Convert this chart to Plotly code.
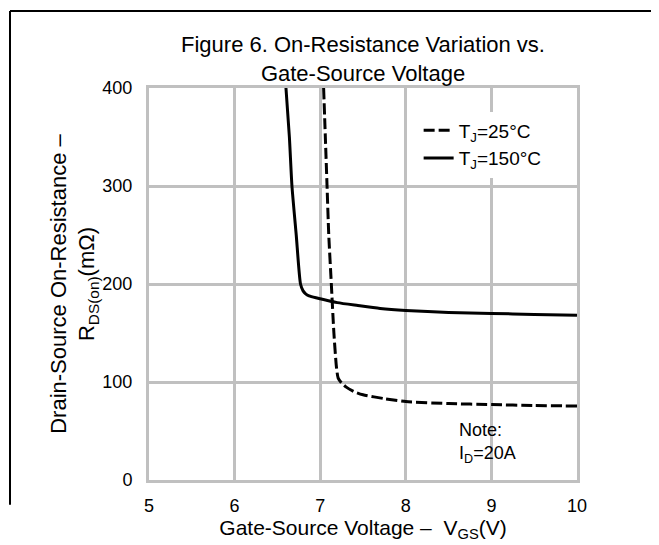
import plotly.graph_objects as go

# ---- data ----
vgs_25 = [7.04, 7.06, 7.08, 7.10, 7.13, 7.16, 7.19, 7.21, 7.25, 7.30, 7.40, 7.50, 7.75, 8.0, 8.5, 9.0, 9.5, 10.0]
r_25 = [400, 350, 300, 250, 200, 150, 115, 104, 99, 95, 90, 87, 83, 80, 78, 77, 76, 75.5]

vgs_150 = [6.60, 6.64, 6.67, 6.72, 6.77, 6.80, 6.83, 6.87, 6.95, 7.0, 7.2, 7.44, 7.7, 8.0, 8.5, 9.0, 9.5, 10.0]
r_150 = [400, 350, 300, 250, 200, 193, 190, 188, 186, 185, 181, 178, 175, 173, 171, 170, 169, 168]

x_ticks = [5, 6, 7, 8, 9, 10]
y_ticks = [0, 100, 200, 300, 400]

series_names = ["T<sub>J</sub>=25°C", "T<sub>J</sub>=150°C"]
title_text = "Figure 6. On-Resistance Variation vs.<br>Gate-Source Voltage"
x_title = "Gate-Source Voltage \u2013  V<sub>GS</sub>(V)"
y_title = "Drain-Source On-Resistance \u2013<br>R<sub>DS(on)</sub>(m\u03a9)"
note_text = "Note:<br>I<sub>D</sub>=20A"

FONT = "Arial, Liberation Sans, sans-serif"
GRID = "#c0c0c0"

fig = go.Figure()
fig.add_trace(go.Scatter(x=vgs_25, y=r_25, mode="lines", name=series_names[0],
                         line=dict(color="black", width=3, dash="11px,4px", shape="spline", smoothing=0.6)))
fig.add_trace(go.Scatter(x=vgs_150, y=r_150, mode="lines", name=series_names[1],
                         line=dict(color="black", width=3, shape="spline", smoothing=0.6)))

fig.update_layout(
    width=659, height=545, autosize=False,
    margin=dict(l=141, r=90, t=80, b=73),
    paper_bgcolor="white", plot_bgcolor="white",
    font=dict(family=FONT, color="black", size=18),
    title=dict(text=title_text, x=(141 + 569) / 2 / 659, xanchor="center",
               y=1 - 44 / 545, yanchor="middle", font=dict(size=22)),
    showlegend=True,
    legend=dict(x=0.63, y=0.94, xanchor="left", yanchor="top", bgcolor="white",
                font=dict(size=19), tracegroupgap=0, itemwidth=30),
    xaxis=dict(range=[5, 10], tickvals=x_ticks, showgrid=True, gridcolor=GRID, gridwidth=3,
               zeroline=False, showline=True, linecolor=GRID, linewidth=3, mirror=True,
               ticks="", tickfont=dict(size=18), ticklabelstandoff=7,
               title=dict(text=x_title, font=dict(size=21), standoff=3)),
    yaxis=dict(range=[0, 400], tickvals=y_ticks, showgrid=True, gridcolor=GRID, gridwidth=3,
               zeroline=False, showline=True, linecolor=GRID, linewidth=3, mirror=True,
               ticks="", tickfont=dict(size=18), ticklabelstandoff=10,
               title=dict(text=y_title, font=dict(size=22), standoff=2)),
)

fig.add_annotation(text=note_text, xref="paper", yref="paper", x=0.72, y=0.095,
                   xanchor="left", yanchor="middle", align="left", showarrow=False,
                   font=dict(size=18))

# outer frame (top, left, right lines)
def px_x(p):
    return (p - 141) / 428.0

def px_y(p):
    return (472.3 - p) / 392.2

for x0, y0, x1, y1 in [(2, 3, 655, 3), (2, 3, 2, 497), (655, 3, 655, 540)]:
    fig.add_shape(type="line", xref="paper", yref="paper",
                  x0=px_x(x0), y0=px_y(y0), x1=px_x(x1), y1=px_y(y1),
                  line=dict(color="black", width=2))

fig.write_html("out.html")
